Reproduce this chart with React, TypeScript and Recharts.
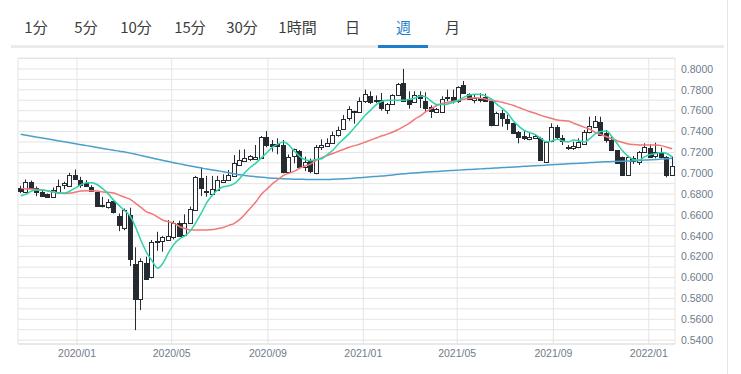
import React from 'react';
import { ComposedChart, Bar, Line, XAxis, YAxis, CartesianGrid } from 'recharts';

const tabs = ['1分', '5分', '10分', '15分', '30分', '1時間', '日', '週', '月'];
const tabCenters = [36, 86, 136, 190, 242, 297.5, 352.5, 403.5, 452.5];
const activeTab = '週';

const firstWeek = '2019-10-21';

const openP = [0.6855,0.6822,0.6918,0.6860,0.6822,0.6800,0.6774,0.6822,0.6886,0.6886,0.6988,0.6940,0.6908,0.6870,0.6822,0.6692,0.6668,0.6733,0.6592,0.6470,
0.6600,0.6126,0.5790,0.6136,0.5998,0.6353,0.6347,0.6366,0.6395,0.6526,0.6401,0.6520,0.6647,0.6951,0.6833,0.6798,0.6839,0.6913,0.6929,0.6973,
0.7076,0.7117,0.7139,0.7137,0.7153,0.7345,0.7280,0.7280,0.7271,0.7015,0.7159,0.7216,0.7063,0.7127,0.7000,0.7255,0.7261,0.7287,0.7367,0.7421,
0.7527,0.7597,0.7594,0.7690,0.7738,0.7704,0.7706,0.7610,0.7658,0.7754,0.7866,0.7703,0.7680,0.7754,0.7690,0.7632,0.7594,0.7594,0.7728,0.7728,
0.7690,0.7847,0.7760,0.7703,0.7725,0.7735,0.7696,0.7469,0.7575,0.7517,0.7479,0.7399,0.7357,0.7328,0.7335,0.7340,0.7111,0.7303,0.7441,0.7335,
0.7249,0.7239,0.7255,0.7287,0.7399,0.7447,0.7494,0.7383,0.7319,0.7223,0.7153,0.6983,0.7143,0.7111,0.7207,0.7245,0.7159,0.7207,0.7159,0.6983];

const highP = [0.6880,0.6940,0.6930,0.6873,0.6840,0.6805,0.6864,0.6940,0.6918,0.7004,0.7036,0.6966,0.6934,0.6886,0.6822,0.6774,0.6752,0.6742,0.6614,0.6662,
0.6670,0.6290,0.6184,0.6200,0.6360,0.6439,0.6398,0.6551,0.6545,0.6545,0.6606,0.6680,0.6975,0.7057,0.6975,0.6975,0.6975,0.6990,0.7031,0.7175,
0.7225,0.7230,0.7175,0.7271,0.7357,0.7405,0.7319,0.7335,0.7319,0.7180,0.7236,0.7223,0.7159,0.7140,0.7271,0.7325,0.7335,0.7399,0.7447,0.7559,
0.7642,0.7600,0.7728,0.7802,0.7786,0.7746,0.7770,0.7674,0.7758,0.7866,0.8000,0.7786,0.7786,0.7786,0.7776,0.7651,0.7626,0.7738,0.7802,0.7802,
0.7834,0.7885,0.7767,0.7750,0.7767,0.7763,0.7706,0.7590,0.7607,0.7562,0.7485,0.7405,0.7408,0.7385,0.7367,0.7350,0.7310,0.7479,0.7463,0.7367,
0.7271,0.7303,0.7335,0.7415,0.7542,0.7549,0.7542,0.7415,0.7351,0.7223,0.7160,0.7160,0.7165,0.7213,0.7287,0.7277,0.7293,0.7245,0.7165,0.7159];

const lowP = [0.6810,0.6815,0.6855,0.6780,0.6780,0.6772,0.6768,0.6815,0.6848,0.6886,0.6943,0.6860,0.6880,0.6822,0.6678,0.6672,0.6660,0.6614,0.6445,0.6454,
0.6110,0.5496,0.5688,0.5982,0.5992,0.6257,0.6248,0.6366,0.6366,0.6398,0.6395,0.6520,0.6640,0.6782,0.6775,0.6792,0.6839,0.6910,0.6925,0.6970,
0.7070,0.7115,0.7117,0.7137,0.7150,0.7249,0.7207,0.7182,0.7000,0.7010,0.7095,0.7057,0.7020,0.7000,0.6990,0.7223,0.7255,0.7287,0.7351,0.7420,
0.7504,0.7475,0.7579,0.7674,0.7664,0.7674,0.7600,0.7568,0.7655,0.7744,0.7683,0.7619,0.7674,0.7626,0.7594,0.7530,0.7579,0.7587,0.7690,0.7668,
0.7674,0.7764,0.7702,0.7671,0.7680,0.7686,0.7450,0.7465,0.7447,0.7415,0.7376,0.7287,0.7319,0.7316,0.7330,0.7117,0.7105,0.7297,0.7325,0.7271,
0.7223,0.7223,0.7240,0.7271,0.7383,0.7447,0.7357,0.7293,0.7217,0.7095,0.6973,0.6975,0.7089,0.7079,0.7201,0.7153,0.7143,0.7153,0.6961,0.6977];

const closeP = [0.6825,0.6918,0.6864,0.6822,0.6784,0.6775,0.6838,0.6878,0.6905,0.6988,0.6950,0.6895,0.6880,0.6828,0.6685,0.6680,0.6720,0.6630,0.6502,0.6646,
0.6175,0.5790,0.6158,0.5982,0.6338,0.6340,0.6388,0.6403,0.6526,0.6401,0.6520,0.6654,0.6961,0.6855,0.6820,0.6849,0.6935,0.6935,0.6980,0.7095,
0.7127,0.7146,0.7165,0.7160,0.7350,0.7271,0.7264,0.7261,0.7009,0.7159,0.7230,0.7063,0.7110,0.7022,0.7249,0.7271,0.7293,0.7367,0.7415,0.7517,
0.7613,0.7585,0.7696,0.7760,0.7680,0.7700,0.7626,0.7664,0.7748,0.7856,0.7690,0.7664,0.7748,0.7722,0.7619,0.7594,0.7619,0.7715,0.7715,0.7696,
0.7824,0.7773,0.7709,0.7725,0.7703,0.7693,0.7469,0.7581,0.7527,0.7479,0.7383,0.7350,0.7335,0.7350,0.7357,0.7125,0.7303,0.7441,0.7341,0.7303,
0.7239,0.7261,0.7303,0.7399,0.7453,0.7504,0.7367,0.7319,0.7223,0.7101,0.6980,0.7153,0.7111,0.7207,0.7255,0.7159,0.7201,0.7159,0.6983,0.7069];

const maShort = [0.6785,0.6800,0.6830,0.6840,0.6840,0.6830,0.6820,0.6810,0.6810,0.6830,0.6860,0.6890,0.6910,0.6910,0.6890,0.6850,0.6800,0.6740,0.6690,0.6640,
0.6590,0.6480,0.6350,0.6240,0.6160,0.6090,0.6140,0.6240,0.6320,0.6370,0.6400,0.6450,0.6530,0.6620,0.6720,0.6790,0.6840,0.6870,0.6880,0.6900,
0.6950,0.7010,0.7060,0.7100,0.7150,0.7200,0.7250,0.7280,0.7300,0.7270,0.7210,0.7160,0.7130,0.7120,0.7133,0.7140,0.7180,0.7220,0.7280,0.7330,
0.7380,0.7440,0.7500,0.7560,0.7610,0.7660,0.7690,0.7700,0.7700,0.7700,0.7700,0.7710,0.7720,0.7740,0.7730,0.7690,0.7660,0.7658,0.7665,0.7680,
0.7700,0.7730,0.7750,0.7757,0.7755,0.7740,0.7710,0.7660,0.7620,0.7570,0.7500,0.7450,0.7410,0.7390,0.7370,0.7335,0.7300,0.7310,0.7325,0.7310,
0.7300,0.7320,0.7310,0.7300,0.7335,0.7380,0.7400,0.7405,0.7350,0.7280,0.7210,0.7160,0.7130,0.7127,0.7160,0.7180,0.7190,0.7200,0.7190,0.7155];

const maMid = [0.6855,0.6850,0.6848,0.6845,0.6840,0.6830,0.6820,0.6810,0.6807,0.6810,0.6820,0.6830,0.6833,0.6833,0.6830,0.6820,0.6817,0.6810,0.6790,0.6770,
0.6750,0.6710,0.6670,0.6630,0.6610,0.6580,0.6550,0.6535,0.6520,0.6490,0.6470,0.6455,0.6455,0.6455,0.6457,0.6460,0.6470,0.6480,0.6500,0.6520,
0.6558,0.6610,0.6670,0.6730,0.6800,0.6850,0.6900,0.6940,0.6980,0.7000,0.7020,0.7050,0.7070,0.7090,0.7125,0.7150,0.7170,0.7190,0.7210,0.7230,
0.7250,0.7265,0.7280,0.7300,0.7320,0.7340,0.7360,0.7375,0.7395,0.7420,0.7450,0.7480,0.7520,0.7550,0.7590,0.7620,0.7650,0.7670,0.7680,0.7690,
0.7700,0.7710,0.7720,0.7725,0.7720,0.7710,0.7700,0.7690,0.7680,0.7665,0.7650,0.7630,0.7610,0.7590,0.7575,0.7555,0.7540,0.7525,0.7510,0.7505,
0.7500,0.7480,0.7460,0.7440,0.7420,0.7390,0.7370,0.7350,0.7330,0.7310,0.7295,0.7280,0.7275,0.7272,0.7270,0.7270,0.7270,0.7265,0.7250,0.7235];

const maLong = [0.7373,0.7364,0.7355,0.7346,0.7337,0.7328,0.7319,0.7310,0.7301,0.7292,0.7283,0.7274,0.7265,0.7256,0.7247,0.7238,0.7229,0.7220,0.7211,0.7203,
0.7193,0.7182,0.7170,0.7158,0.7146,0.7134,0.7123,0.7112,0.7101,0.7090,0.7080,0.7070,0.7060,0.7050,0.7040,0.7031,0.7023,0.7015,0.7005,0.6995,
0.6985,0.6978,0.6972,0.6966,0.6961,0.6957,0.6953,0.6950,0.6947,0.6945,0.6943,0.6942,0.6941,0.6940,0.6940,0.6940,0.6941,0.6942,0.6944,0.6947,
0.6950,0.6954,0.6958,0.6962,0.6966,0.6970,0.6974,0.6979,0.6984,0.6990,0.6995,0.6999,0.7003,0.7007,0.7011,0.7015,0.7018,0.7021,0.7024,0.7027,
0.7030,0.7033,0.7036,0.7039,0.7042,0.7045,0.7048,0.7051,0.7054,0.7057,0.7060,0.7063,0.7066,0.7069,0.7072,0.7075,0.7078,0.7081,0.7084,0.7087,
0.7090,0.7093,0.7096,0.7099,0.7102,0.7105,0.7108,0.7110,0.7112,0.7114,0.7116,0.7118,0.7120,0.7123,0.7126,0.7129,0.7132,0.7136,0.7140,0.7145];

const xTickLabels = ['2020/01', '2020/05', '2020/09', '2021/01', '2021/05', '2021/09', '2022/01'];
const yTicks = [0.54,0.55,0.56,0.57,0.58,0.59,0.60,0.61,0.62,0.63,0.64,0.65,0.66,0.67,0.68,0.69,0.70,0.71,0.72,0.73,0.74,0.75,0.76,0.77,0.78,0.79,0.80,0.81];

const DAY = 86400000;
const WEEK = 7 * DAY;
const [fy, fm, fd] = firstWeek.split('-').map(Number);
const START = Date.UTC(fy, fm - 1, fd);

const data = openP.map((o, i) => ({
  t: START + i * WEEK,
  open: o,
  high: highP[i],
  low: lowP[i],
  close: closeP[i],
  maS: maShort[i],
  maM: maMid[i],
  maL: maLong[i],
}));

const xTicks = xTickLabels.map((s) => {
  const [y, m] = s.split('/').map(Number);
  return Date.UTC(y, m - 1, 1);
});

const fmtX = (v: number) => {
  const d = new Date(v);
  return `${d.getUTCFullYear()}/${String(d.getUTCMonth() + 1).padStart(2, '0')}`;
};
const fmtY = (v: number) => (Math.round(v * 100) % 2 === 0 ? v.toFixed(4) : '');

const DARK = '#262b31';

const Candle = (props: any) => {
  const { x, y, width, height, payload } = props;
  if (x == null || y == null || !payload) return null;
  const { open, close, high, low } = payload;
  const top = Math.min(y, y + height);
  const span = Math.abs(height);
  const ratio = high - low > 0 ? span / (high - low) : 0;
  const cx = Math.floor(x + width / 2) + 0.5;
  const yo = top + (high - open) * ratio;
  const yc = top + (high - close) * ratio;
  const up = close >= open;
  const bTop = Math.round(Math.min(yo, yc)) + 0.5;
  const bH = Math.max(Math.round(Math.abs(yo - yc)), 1);
  return (
    <g>
      <line x1={cx} x2={cx} y1={top} y2={top + span} stroke={DARK} strokeWidth={1} />
      <rect x={cx - 2} y={bTop} width={4} height={bH} fill={up ? '#ffffff' : DARK} stroke={DARK} strokeWidth={1} />
    </g>
  );
};

const tickStyle = { fill: '#6f7b8c', fontSize: 10.5, fontFamily: '"Liberation Sans", Arial, sans-serif' };

export default function App() {
  return (
    <div style={{ position: 'absolute', left: 0, top: 0, width: 741, height: 374, background: '#fff', overflow: 'hidden' }}>
      {tabs.map((t, i) => (
        <span
          key={t}
          style={{
            position: 'absolute',
            left: tabCenters[i],
            top: 17,
            transform: 'translateX(-50%)',
            fontFamily: '"Noto Sans CJK JP", sans-serif',
            fontSize: 15,
            lineHeight: '20px',
            color: t === activeTab ? '#1f7ec8' : '#3d3d3d',
            whiteSpace: 'nowrap',
          }}
        >
          {t}
        </span>
      ))}
      <div style={{ position: 'absolute', left: 11, top: 45, width: 713, height: 3, background: '#ebebeb' }} />
      <div style={{ position: 'absolute', left: 378, top: 45, width: 50, height: 3, background: '#1f7ec8' }} />
      <div style={{ position: 'absolute', left: 727, top: 0, width: 1, height: 374, background: '#e6e6e6' }} />
      <div style={{ position: 'absolute', left: 0, top: 0 }}>
        <ComposedChart width={741} height={374} data={data} margin={{ top: 58, right: 10, bottom: 0, left: 18 }}>
          <CartesianGrid xAxisId="time" stroke="#e4e4e4" strokeWidth={1} />
          <XAxis xAxisId="cat" dataKey="t" type="category" orientation="top" height={0} hide />
          <XAxis
            xAxisId="time"
            dataKey="t"
            type="number"
            domain={[START - 0.5 * WEEK, START + 119.5 * WEEK]}
            ticks={xTicks}
            interval={0}
            tickFormatter={fmtX}
            height={30}
            tickLine={false}
            tickSize={0}
            tickMargin={6}
            axisLine={{ stroke: '#e0e0e0' }}
            tick={tickStyle}
            allowDataOverflow
          />
          <YAxis
            orientation="right"
            type="number"
            domain={[0.5363, 0.8105]}
            ticks={yTicks}
            interval={0}
            tickFormatter={fmtY}
            width={56}
            tickLine={false}
            tickSize={0}
            tickMargin={6}
            axisLine={false}
            tick={tickStyle}
            allowDataOverflow
          />
          <Bar xAxisId="cat" dataKey={(d: any) => [d.low, d.high]} barSize={5} shape={<Candle />} isAnimationActive={false} />
          <Line xAxisId="cat" type="monotone" dataKey="maL" stroke="#4c9ecb" strokeWidth={1.5} dot={false} isAnimationActive={false} />
          <Line xAxisId="cat" type="monotone" dataKey="maM" stroke="#f27777" strokeWidth={1.5} dot={false} isAnimationActive={false} />
          <Line xAxisId="cat" type="monotone" dataKey="maS" stroke="#2ed3ab" strokeWidth={1.5} dot={false} isAnimationActive={false} />
        </ComposedChart>
      </div>
    </div>
  );
}
